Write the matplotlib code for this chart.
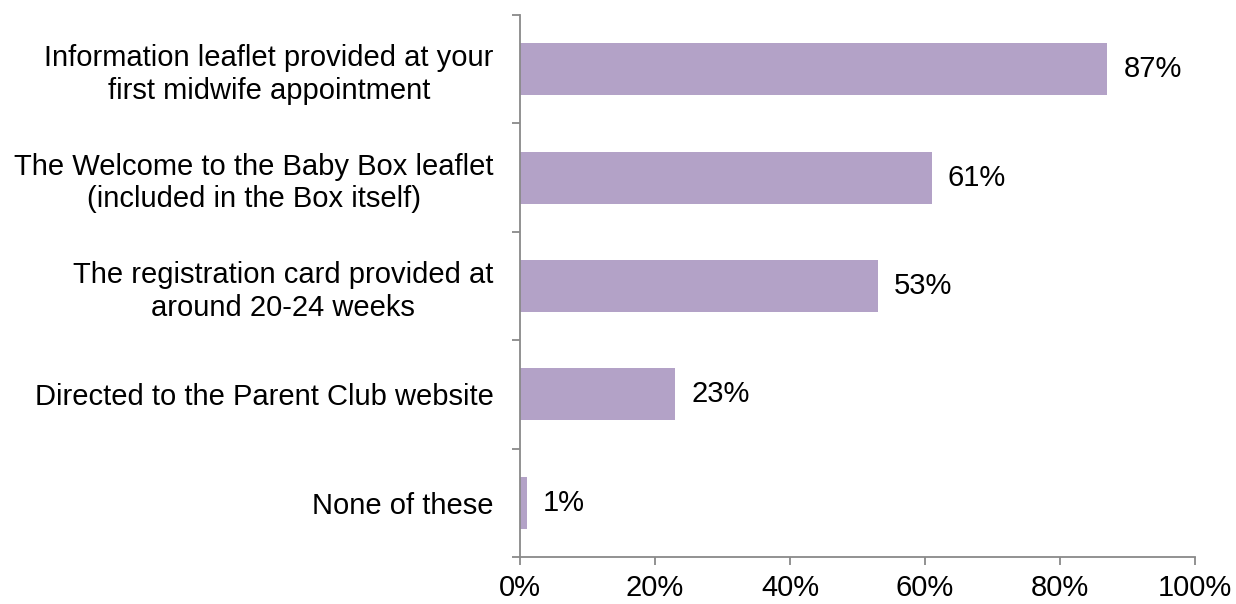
import matplotlib
matplotlib.use("Agg")
import matplotlib.pyplot as plt
import numpy as np

# survey responses, top to bottom
labels = [
    "Information leaflet provided at your\nfirst midwife appointment",
    "The Welcome to the Baby Box leaflet\n(included in the Box itself)",
    "The registration card provided at\naround 20-24 weeks",
    "Directed to the Parent Club website",
    "None of these",
]
values = [87, 61, 53, 23, 1]
xticks = [0, 20, 40, 60, 80, 100]

plt.rcParams['font.family'] = ['Liberation Sans', 'DejaVu Sans']
axis_grey = "#898989"
bar_colour = "#B3A2C7"
fs = 21

fig = plt.figure(figsize=(12.36, 6.04), dpi=100)
ax = fig.add_axes([0.4207, 0.0778, 0.5461, 0.8974])

pos = np.arange(len(labels))
ax.barh(pos, values, height=0.48, color=bar_colour)
for p, v in zip(pos, values):
    ax.text(v + 2.4, p, "{}%".format(v), va="center", ha="left", fontsize=fs)

ax.set_xlim(0, 100)
ax.set_ylim(len(labels) - 0.5, -0.5)
ax.set_xticks(xticks)
ax.set_xticklabels(["{}%".format(t) for t in xticks], fontsize=fs)
ax.set_yticks(pos)
ax.set_yticklabels(labels, fontsize=fs, multialignment="center", linespacing=1.22)
ax.set_yticks(np.arange(len(labels) + 1) - 0.5, minor=True)

for side in ("top", "right"):
    ax.spines[side].set_visible(False)
for side in ("left", "bottom"):
    ax.spines[side].set_color(axis_grey)
    ax.spines[side].set_linewidth(1.3)

ax.tick_params(axis="y", which="major", length=0, pad=19)
ax.tick_params(axis="y", which="minor", length=6, color=axis_grey, width=1.3)
ax.tick_params(axis="x", length=6, color=axis_grey, width=1.3, pad=6)

fig.savefig("out.png", dpi=100)
